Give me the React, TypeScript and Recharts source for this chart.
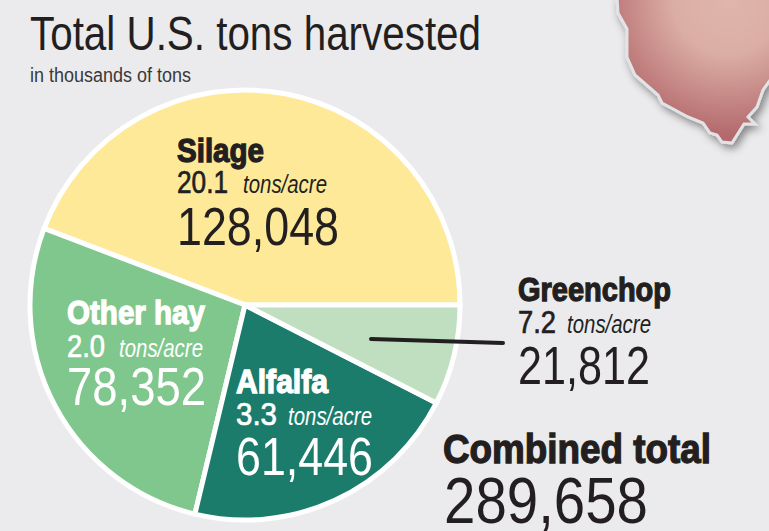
/**
 * Total U.S. tons harvested — pie with direct labels
 */
import { PieChart, Pie, Cell } from "recharts";

const CATEGORIES = ["Silage", "Other hay", "Alfalfa", "Greenchop"];
const TONS = [128048, 78352, 61446, 21812];
const TONS_PER_ACRE = ["20.1", "2.0", "3.3", "7.2"];
const COLORS = ["#fee999", "#7fc78c", "#1c7c6b", "#c0dfc0"];
const COMBINED_TOTAL = 289658;

const INK = "#231f20";
const FONT = "'Liberation Sans Narrow', 'Liberation Sans', sans-serif";

const data = CATEGORIES.map((name, i) => ({ name, value: TONS[i] }));

// label layout, same order as CATEGORIES
const LABELS = [
  { x: 177, name: [162, 87], rate: [193, 51], unit: [243, 84], total: [245, 162], fill: INK },
  { x: 67, name: [324, 138], rate: [357, 38], unit: [119, 84], total: [405, 139], fill: "#ffffff" },
  { x: 236, name: [393, 92], rate: [425, 41], unit: [288, 84], total: [475, 137], fill: "#ffffff" },
  { x: 518, name: [301, 153], rate: [333, 38], unit: [567, 84], total: [384, 132], fill: INK },
];

const STATE_OUTLINE =
  "M617,-4 L618,13 L627,29 L627,57 L635,75 L658,95 L662,103 L688,117 L703,123 L710,133 L717,135 L722,142 L732,143 L744,124 L755,124 L748,117 L757,107 L763,90 L773,76 L773,-4 Z";

const layer = { position: "absolute", left: 0, top: 0 } as const;

function T({ x, y, w, size, bold, italic, weight = 0, fill = INK, children }: any) {
  return (
    <text
      x={x}
      y={y}
      textLength={w}
      lengthAdjust="spacingAndGlyphs"
      fontFamily={FONT}
      fontSize={size}
      fontWeight={bold ? 700 : 400}
      fontStyle={italic ? "italic" : "normal"}
      fill={fill}
      stroke={weight ? fill : "none"}
      strokeWidth={weight}
    >
      {children}
    </text>
  );
}

export default function App() {
  return (
    <div style={{ ...layer, width: 769, height: 531, overflow: "hidden", background: "#ebebed" }}>
      <svg width={769} height={531} style={layer}>
        <defs>
          <radialGradient id="stateFill" gradientUnits="userSpaceOnUse" cx={728} cy={0} r={135}>
            <stop offset="0%" stopColor="#dfb6ab" />
            <stop offset="40%" stopColor="#dbaea5" />
            <stop offset="100%" stopColor="#b4696c" />
          </radialGradient>
          <filter id="stateShadow" x="-30%" y="-30%" width="160%" height="160%">
            <feDropShadow dx={3} dy={4} stdDeviation={4} floodColor="#000" floodOpacity={0.45} />
          </filter>
        </defs>
        <path d={STATE_OUTLINE} fill="url(#stateFill)" stroke="#e2e3e6" strokeWidth={3} filter="url(#stateShadow)" />
      </svg>

      <div style={layer}>
        <PieChart width={769} height={531} margin={{ top: 0, right: 0, bottom: 0, left: 0 }}>
          <Pie
            data={data}
            dataKey="value"
            cx={245}
            cy={305}
            outerRadius={215}
            startAngle={0}
            endAngle={360}
            stroke="#ffffff"
            strokeWidth={5}
            isAnimationActive={false}
            label={false}
            labelLine={false}
          >
            {data.map((d, i) => (
              <Cell key={d.name} fill={COLORS[i]} />
            ))}
          </Pie>
        </PieChart>
      </div>

      <svg width={769} height={531} style={layer}>
        <T x={30} y={50} w={451} size={48}>Total U.S. tons harvested</T>
        <T x={30} y={82} w={161} size={20} fill="#3a3839">in thousands of tons</T>

        {LABELS.map((l, i) => (
          <g key={CATEGORIES[i]}>
            <T x={l.x} y={l.name[0]} w={l.name[1]} size={33} bold weight={1.3} fill={l.fill}>{CATEGORIES[i]}</T>
            <T x={l.x} y={l.rate[0]} w={l.rate[1]} size={32} weight={0.7} fill={l.fill}>{TONS_PER_ACRE[i]}</T>
            <T x={l.unit[0]} y={l.rate[0]} w={l.unit[1]} size={25} italic fill={l.fill}>tons/acre</T>
            <T x={l.x} y={l.total[0]} w={l.total[1]} size={54} fill={l.fill}>{TONS[i].toLocaleString("en-US")}</T>
          </g>
        ))}

        <line x1={371} y1={339} x2={503} y2={343} stroke={INK} strokeWidth={4} strokeLinecap="round" />

        <T x={443} y={463} w={268} size={41} bold weight={1.3}>Combined total</T>
        <T x={444} y={523} w={204} size={65}>{COMBINED_TOTAL.toLocaleString("en-US")}</T>
      </svg>
    </div>
  );
}
